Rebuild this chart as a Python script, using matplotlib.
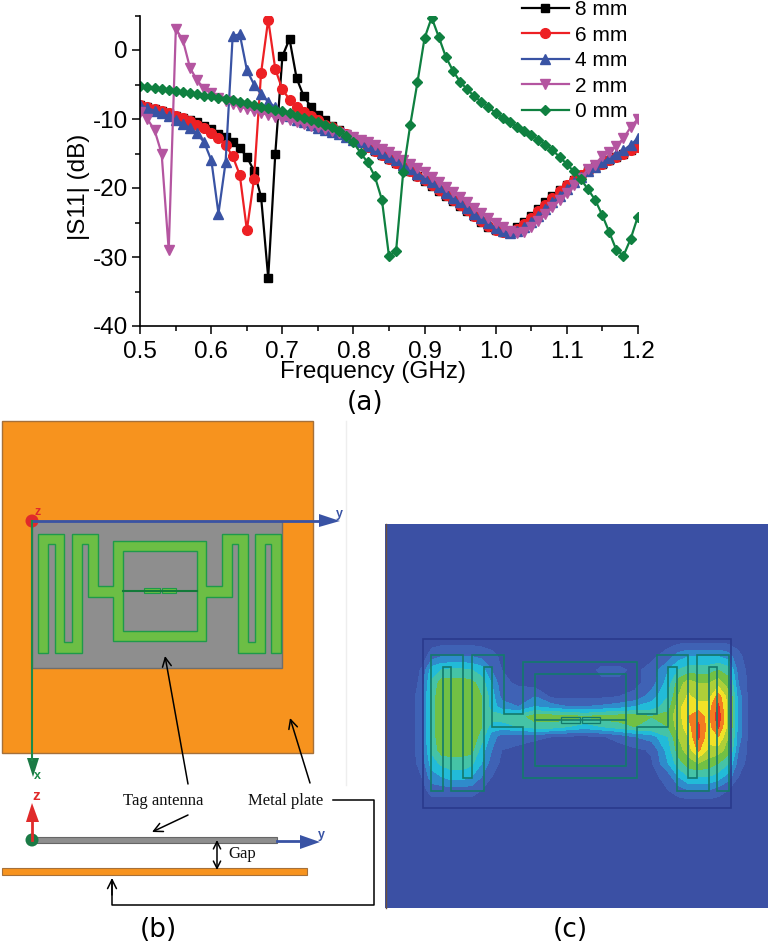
import numpy as np
import matplotlib
matplotlib.use("Agg")
import matplotlib.pyplot as plt
from matplotlib.patches import Polygon, Rectangle, Circle

plt.rcParams['font.family'] = ['Liberation Sans', 'DejaVu Sans']
plt.rcParams['axes.unicode_minus'] = False

freq = [round(0.5 + i * 0.01, 2) for i in range(71)]

s8 = [-8, -8.3, -8.6, -8.9, -9.2, -9.5, -9.8, -10.1, -10.5, -11, -11.5, -12.2, -12.6, -13.3, -14.2, -15.5, -17.5, -21.3, -33, -15,
      -0.9, 1.6, -4.1, -6.7, -8.2, -9.4, -10.2, -11, -11.6, -12.2, -12.8, -13.4, -14, -14.6, -15.2, -15.8, -16.4, -17, -17.6, -18.3,
      -19, -19.7, -20.4, -21.1, -21.9, -22.6, -23.3, -24.1, -24.9, -25.6, -26.1, -26.4, -26.2, -25.6, -24.9, -24, -23, -22.1, -21.2, -20.3,
      -19.5, -18.8, -18.1, -17.5, -17, -16.5, -16, -15.5, -15, -14.5, -14]
s6 = [-8, -8.3, -8.6, -8.9, -9.2, -9.6, -9.9, -10.3, -10.8, -11.3, -12, -12.8, -13.8, -15.4, -18.1, -26.1, -18.7, -3.3, 4.4, -2.8,
      -5.7, -7.2, -8.2, -9, -9.6, -10.2, -10.8, -11.2, -11.7, -12.2, -12.8, -13.4, -14, -14.6, -15.2, -15.8, -16.4, -17, -17.6, -18.2,
      -18.9, -19.6, -20.3, -21, -21.8, -22.5, -23.2, -24, -24.8, -25.5, -26.1, -26.4, -26.3, -25.9, -25.2, -24.3, -23.4, -22.4, -21.4, -20.5,
      -19.6, -18.8, -18.1, -17.5, -17, -16.5, -16, -15.5, -15, -14.5, -14]
s4 = [-8, -8.4, -8.8, -9.2, -9.6, -10.1, -10.7, -11.3, -12.1, -13.4, -16, -23.7, -16.3, 2, 2.3, -2.9, -5, -6.4, -7.5, -8.3,
      -9, -9.6, -10.1, -10.5, -10.9, -11.3, -11.6, -11.9, -12.2, -12.6, -13, -13.4, -13.9, -14.4, -14.9, -15.5, -16, -16.6, -17.2, -17.9,
      -18.5, -19.2, -19.9, -20.7, -21.4, -22.1, -22.9, -23.7, -24.4, -25.1, -25.8, -26.3, -26.5, -26.3, -25.7, -24.9, -24, -23.1, -22.1, -21.1,
      -20.2, -19.2, -18.4, -17.6, -16.9, -16.3, -15.7, -15.1, -14.5, -13.8, -12.8]
s2 = [-9, -10, -11.6, -15, -29, 3.1, 1.4, -2.6, -4.4, -5.6, -6.3, -6.9, -7.4, -7.8, -8.2, -8.5, -8.8, -9.1, -9.4, -9.7,
      -10, -10.2, -10.5, -10.7, -11, -11.2, -11.5, -11.7, -12, -12.3, -12.6, -13, -13.4, -13.8, -14.3, -14.8, -15.3, -15.9, -16.5, -17.1,
      -17.7, -18.4, -19.1, -19.8, -20.6, -21.3, -22.1, -22.9, -23.6, -24.4, -25.1, -25.7, -26.3, -26.5, -26.4, -25.7, -24.8, -23.8, -22.8, -21.7,
      -20.7, -19.6, -18.5, -17.3, -16.6, -15.4, -14.8, -13.9, -12.8, -11.2, -10]
s0 = [-5.2, -5.3, -5.5, -5.6, -5.8, -5.9, -6.1, -6.2, -6.4, -6.6, -6.7, -6.9, -7.1, -7.3, -7.5, -7.7, -7.9, -8.2, -8.4, -8.7,
      -8.9, -9.2, -9.5, -9.8, -10.1, -10.4, -10.8, -11.2, -11.7, -12.5, -13.4, -14.9, -16.3, -18.3, -21.7, -29.9, -29.1, -17.7, -10.8, -4.7,
      1.7, 4.7, 1.9, -1, -3, -4.6, -5.7, -6.7, -7.5, -8.3, -9.1, -9.8, -10.5, -11.1, -11.7, -12.3, -13, -13.7, -14.5, -15.5,
      -16.5, -17.6, -18.7, -20.2, -21.7, -23.9, -26.4, -29, -29.8, -27.4, -24.2]

# field strength in panel (c) (0 = blue, 10 = red)
field_x = [80, 110, 140, 170, 200, 230, 260, 290, 320, 350, 400, 450, 500, 550, 600, 650, 700, 750, 800, 850, 880, 910, 940, 970, 1000, 1030, 1060, 1090]
field_y = [60, 110, 150, 190, 230, 260, 290, 320, 350, 390, 430, 470, 510, 550]
field = [
    [0, 0, 0, 0, 0, 0, 0, 0, 0, 0, 0, 0, 0, 0, 0, 0, 0, 0, 0, 0, 0, 0, 0, 0, 0, 0, 0, 0],
    [0, 0, 1, 1.5, 1.5, 1.5, 1.5, 1.2, .8, .3, 0, 0, 0, 0, 0, 0, 0, 0, .3, 1, 2, 2.5, 2.5, 2.5, 2.5, 2, .8, 0],
    [0, .6, 3, 3.5, 3.7, 3.7, 3.5, 3, 1.5, .5, 0, 0, 0, 0, 0, .7, .7, .3, .8, 2.5, 3.5, 4, 4, 4, 4.5, 4, 1, .3],
    [0, .8, 3.7, 5, 5, 5, 4.8, 4, 2.5, .8, .3, 0, 0, 0, 0, .3, .3, .2, 1, 3, 5, 6, 5.5, 5.5, 6, 5, 1.5, .3],
    [.2, 1, 4, 5.2, 5.2, 5.2, 5.2, 4.5, 3, 1.2, 1.2, 1.5, .3, .2, .2, .3, .5, .8, 2, 3.5, 5.5, 6.7, 6, 6, 8, 6, 2, .3],
    [.2, 1, 4, 5.2, 5.2, 5.2, 5.2, 4.5, 3, 2, 1.5, 2.5, 2, 1.5, 1.5, 1.7, 2, 2.5, 3, 4, 6, 7.5, 7, 7, 8.7, 6, 2, .3],
    [.2, 1, 4, 5.2, 5.2, 5.5, 5.2, 4.5, 4, 4, 4, 5, 5, 5, 4.5, 5, 5, 5, 4.5, 5, 6, 7.5, 8.2, 7, 9.2, 6, 2, .3],
    [.2, 1, 4, 5.2, 5.2, 5.5, 5.2, 4.5, 3, 3, 3.5, 4, 4, 3.5, 3, 3.5, 4, 4.5, 4.5, 4.5, 6, 7, 8.7, 7, 8.7, 6, 2, .3],
    [.2, 1, 4, 5.2, 5.2, 5.2, 5.2, 4, 2, 1, 1, .7, .5, .3, .3, .4, .8, 1.5, 2, 3.5, 5.5, 6.5, 8.7, 6.8, 7.5, 5.5, 2, .3],
    [.2, 1, 3.7, 5, 5, 5, 4.8, 3, 1.5, .5, .2, 0, 0, 0, 0, 0, .1, .3, .6, 3, 5, 6, 7.7, 6.3, 6, 5, 1.5, .3],
    [.2, .8, 3, 3.7, 4, 4, 3.7, 2.5, 1, .3, 0, 0, 0, 0, 0, 0, 0, .1, .4, 2.5, 4, 5, 5.5, 5, 4.5, 3.5, 1, .2],
    [0, .5, 2, 2.5, 3, 3, 2.5, 1.5, .5, 0, 0, 0, 0, 0, 0, 0, 0, 0, .1, 1, 2.5, 3.5, 3.5, 3.5, 3, 2, .5, 0],
    [0, 0, 1, 1, 1, 1, 1, .5, 0, 0, 0, 0, 0, 0, 0, 0, 0, 0, 0, .5, 1, 1.5, 1.5, 1.5, 1, .5, 0, 0],
    [0, 0, 0, 0, 0, 0, 0, 0, 0, 0, 0, 0, 0, 0, 0, 0, 0, 0, 0, 0, 0, 0, 0, 0, 0, 0, 0, 0],
]
field_levels = [0, .5, 1.5, 2.5, 3.5, 4.5, 5.5, 6.5, 7.5, 8.5, 10]
field_colors = ['#3B50A4', '#3F62B5', '#2F8BCB', '#22BBD8', '#45C3A6', '#72C044', '#AECF38', '#F2E227', '#F47B20', '#EC2A26']

# tag antenna outline (traced in a 3x crop of panel b)
tag_shape = [(115, 458), (115, 103), (193, 103), (193, 425), (217, 425), (217, 103), (293, 103), (293, 258), (340, 258),
             (340, 122), (618, 122), (618, 258), (667, 258), (667, 103), (743, 103), (743, 425), (765, 425), (765, 103),
             (843, 103), (843, 458), (813, 458), (813, 133), (795, 133), (795, 458), (715, 458), (715, 133), (695, 133),
             (695, 290), (618, 290), (618, 423), (340, 423), (340, 290), (265, 290), (265, 133), (245, 133), (245, 458),
             (165, 458), (165, 133), (145, 133), (145, 458)]
tag_hole = [(370, 152), (592, 152), (592, 392), (370, 392)]
tag_board = [(97, 62), (847, 62), (847, 503), (97, 503)]
pad1 = [(432, 265), (480, 265), (480, 279), (432, 279)]
pad2 = [(485, 265), (528, 265), (528, 279), (485, 279)]
feed_line = [(370, 272), (592, 272)]


def to_b(pts):
    return [(x / 3, 500 + y / 3) for x, y in pts]


def to_c(pts):
    return [(385 + (115 + (x - 97) * 1.229) / 3, 620 + (58 + (y - 62) * 1.15) / 3) for x, y in pts]


fig = plt.figure(figsize=(7.7, 9.49), dpi=100)

# background axes in pixels for panels b and c
bg = fig.add_axes([0, 0, 1, 1])
bg.set_xlim(0, 770)
bg.set_ylim(949, 0)
bg.axis('off')

# panel (b)
orange = '#F7931E'
bg.add_patch(Rectangle((2, 421), 311, 332, fc=orange, ec='#A5703A', lw=1))
bg.plot([346, 346], [421, 785], color='#EEEEEE', lw=1)
bg.add_patch(Polygon(to_b(tag_board), fc='#8E8E8E', ec='#6E6E6E', lw=1))
bg.add_patch(Polygon(to_b(tag_shape), fc='#6CBE45', ec='#1E9A4A', lw=1))
bg.add_patch(Polygon(to_b(tag_hole), fc='#8E8E8E', ec='#1E9A4A', lw=1))
xl, yl = zip(*to_b(feed_line))
bg.plot(xl, yl, color='#137A3A', lw=1.5)
bg.add_patch(Polygon(to_b(pad1), fc='#6CBE45', ec='#1E9A4A', lw=0.8))
bg.add_patch(Polygon(to_b(pad2), fc='#6CBE45', ec='#1E9A4A', lw=0.8))

# coordinate triad on top view
bg.plot([32, 320], [521, 521], color='#3953A4', lw=2)
bg.plot([32, 32], [521, 760], color='#1B8A4A', lw=1.5)
bg.add_patch(Polygon([(319, 514), (319, 527), (340, 521)], fc='#3953A4', ec='none'))
bg.add_patch(Polygon([(27, 758), (39, 758), (33, 777)], fc='#1B7A45', ec='none'))
bg.add_patch(Circle((32, 521), 6.5, fc='#E02A2A', ec='none'))
bg.text(339, 514, 'y', color='#3953A4', fontsize=9, fontweight='bold', ha='center', va='center')
bg.text(38, 512, 'z', color='#E02A2A', fontsize=9, fontweight='bold', ha='center', va='center')
bg.text(37, 776, 'x', color='#1B8A4A', fontsize=9, fontweight='bold', ha='center', va='center')

# side view
bg.add_patch(Rectangle((32, 837), 245, 5.5, fc='#8E8E8E', ec='#666666', lw=0.8))
bg.add_patch(Rectangle((2, 868), 305, 7, fc=orange, ec='#A5703A', lw=0.8))
bg.plot([277, 305], [841, 841], color='#3953A4', lw=2)
bg.add_patch(Polygon([(300, 835), (300, 849), (320, 842)], fc='#3953A4', ec='none'))
bg.plot([32, 32], [815, 840], color='#E02A2A', lw=2)
bg.add_patch(Polygon([(26, 822), (39, 822), (32, 803)], fc='#E02A2A', ec='none'))
bg.add_patch(Circle((32, 840), 6.5, fc='#1B7A45', ec='none'))
bg.text(36, 796, 'z', color='#E02A2A', fontsize=11, fontweight='bold', ha='center', va='center')
bg.text(321, 835, 'y', color='#3953A4', fontsize=9, fontweight='bold', ha='center', va='center')

serif = ['Liberation Serif', 'DejaVu Serif']
bg.text(163, 801, 'Tag antenna', family=serif, fontsize=12, ha='center', va='center', color='#111111')
bg.text(286, 801, 'Metal plate', family=serif, fontsize=12, ha='center', va='center', color='#111111')
bg.text(242, 854, 'Gap', family=serif, fontsize=12, ha='center', va='center', color='#111111')

arrow = dict(arrowstyle='->', color='black', lw=1.1, mutation_scale=16, shrinkA=0, shrinkB=0)
bg.annotate('', xy=(165, 656), xytext=(188, 784), arrowprops=arrow)
bg.annotate('', xy=(290, 718), xytext=(310, 783), arrowprops=arrow)
bg.annotate('', xy=(152, 832), xytext=(188, 815), arrowprops=arrow)
bg.annotate('', xy=(217, 840), xytext=(217, 870), arrowprops=dict(arrowstyle='<->', color='black', lw=1.1, mutation_scale=13, shrinkA=0, shrinkB=0))
bg.plot([333, 374, 374, 112, 112], [800, 800, 905, 905, 880], color='black', lw=1.1)
bg.annotate('', xy=(112, 878), xytext=(112, 895), arrowprops=arrow)

# panel (c)
bg.add_patch(Rectangle((385, 524), 383, 384, fc=field_colors[0], ec='none'))
bg.plot([385.5, 385.5], [524, 908], color='#6A5040', lw=1)
fx = [385 + v / 3 for v in field_x]
fy = [620 + v / 3 for v in field_y]
bg.contourf(fx, fy, np.array(field), levels=field_levels, colors=field_colors)
bg.set_xlim(0, 770)
bg.set_ylim(949, 0)
line_c = '#137A6C'
bg.add_patch(Polygon(to_c(tag_board), fc='none', ec='#2A3A8C', lw=1.2))
bg.add_patch(Polygon(to_c(tag_shape), fc='none', ec=line_c, lw=1.2))
bg.add_patch(Polygon(to_c(tag_hole), fc='none', ec=line_c, lw=1.2))
xl, yl = zip(*to_c(feed_line))
bg.plot(xl, yl, color=line_c, lw=1.2)
bg.add_patch(Polygon(to_c(pad1), fc='none', ec=line_c, lw=0.9))
bg.add_patch(Polygon(to_c(pad2), fc='none', ec=line_c, lw=0.9))

# panel letters
bg.text(365, 403, '(a)', family='DejaVu Sans', fontsize=19, ha='center', va='center')
bg.text(158, 930, '(b)', family='DejaVu Sans', fontsize=19, ha='center', va='center')
bg.text(570, 930, '(c)', family='DejaVu Sans', fontsize=19, ha='center', va='center')

# panel (a)
ax = fig.add_axes([140.3 / 770, 1 - 326 / 949, (637.7 - 140.3) / 770, (326 - 15.5) / 949])
ax.patch.set_alpha(0)
styles = [(s8, '8 mm', 'black', 's', 5.6), (s6, '6 mm', '#ED2024', 'o', 7), (s4, '4 mm', '#3953A4', '^', 7.5),
          (s2, '2 mm', '#B455A0', 'v', 7.5), (s0, '0 mm', '#0F8040', 'D', 5.2)]
for vals, name, col, mk, size in styles:
    ax.plot(freq, vals, color=col, marker=mk, ms=size, lw=1.6, label=name)
ax.set_xlim(0.5, 1.2)
ax.set_ylim(-40, 5)
ax.set_xticks([0.5, 0.6, 0.7, 0.8, 0.9, 1.0, 1.1, 1.2])
ax.set_xticks(np.arange(0.55, 1.2, 0.1), minor=True)
ax.set_yticks([-40, -30, -20, -10, 0])
ax.set_yticks([-35, -25, -15, -5, 5], minor=True)
ax.tick_params(axis='x', which='major', length=6, width=1.1, labelsize=17.5, pad=5)
ax.tick_params(axis='y', which='major', length=6, width=1.1, labelsize=17.5, pad=3)
ax.tick_params(axis='both', which='minor', length=3.5, width=1.1)
ax.spines['top'].set_visible(False)
ax.spines['right'].set_visible(False)
ax.spines['left'].set_linewidth(1.2)
ax.spines['bottom'].set_linewidth(1.2)
ax.set_xlabel('Frequency (GHz)', fontsize=17.5, va='center')
ax.xaxis.set_label_coords((373 - 140.3) / 497.4, -(372 - 326) / 310.5)
ax.set_ylabel('|S11| (dB)', fontsize=17.5, va='center')
ax.yaxis.set_label_coords((79 - 140.3) / 497.4, (326 - 187) / 310.5)
ax.legend(loc='upper left', bbox_to_anchor=(522 / 770, 1.0), bbox_transform=fig.transFigure, frameon=False,
          fontsize=15, handlelength=2.25, labelspacing=0.315, handletextpad=0.3, borderpad=0, borderaxespad=0)

fig.savefig('out.png', dpi=100)
